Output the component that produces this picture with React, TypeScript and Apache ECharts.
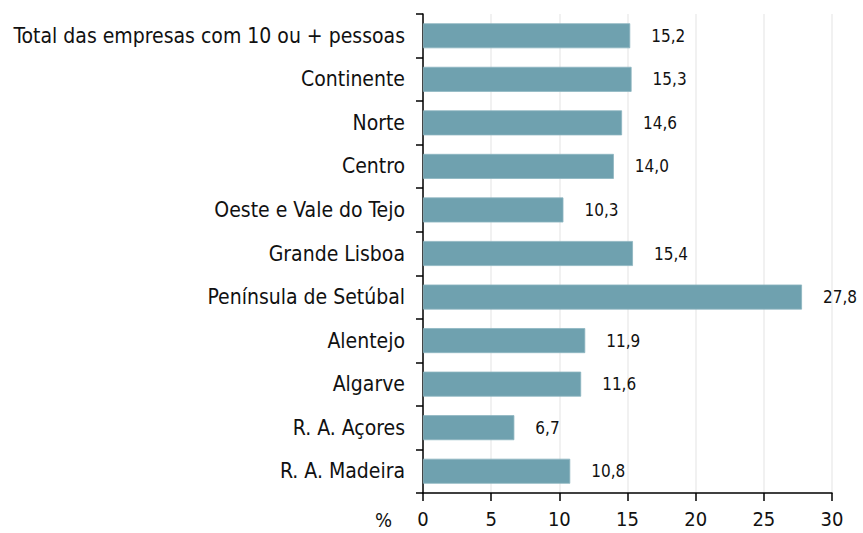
import React, { useEffect, useRef } from "react";
import * as echarts from "echarts";

const categories = [
  "Total das empresas com 10 ou + pessoas",
  "Continente",
  "Norte",
  "Centro",
  "Oeste e Vale do Tejo",
  "Grande Lisboa",
  "Península de Setúbal",
  "Alentejo",
  "Algarve",
  "R. A. Açores",
  "R. A. Madeira",
];
const values = [15.2, 15.3, 14.6, 14.0, 10.3, 15.4, 27.8, 11.9, 11.6, 6.7, 10.8];
const axisUnit = "%";

const FONT = "'DejaVu Sans Condensed', 'DejaVu Sans', sans-serif";

export default function App() {
  const ref = useRef<HTMLDivElement>(null);
  useEffect(() => {
    if (!ref.current) return;
    const chart = echarts.init(ref.current, undefined, { renderer: "svg" });
    chart.setOption({
      animation: false,
      backgroundColor: "#ffffff",
      grid: { left: 423, top: 14, width: 409, height: 479, containLabel: false },
      xAxis: {
        type: "value",
        min: 0,
        max: 30,
        interval: 5,
        axisLine: { show: true, lineStyle: { color: "#000", width: 1.5 } },
        axisTick: { show: true, length: 8, lineStyle: { color: "#000", width: 1.5 } },
        axisLabel: { color: "#111", fontFamily: FONT, fontSize: 20, margin: 16 },
        splitLine: { show: true, lineStyle: { color: "#ececec", width: 1.5 } },
      },
      yAxis: {
        type: "category",
        data: categories,
        inverse: true,
        axisLine: { show: true, lineStyle: { color: "#000", width: 1.5 } },
        axisTick: { show: true, length: 7, lineStyle: { color: "#000", width: 1.5 } },
        axisLabel: { color: "#111", fontFamily: FONT, fontSize: 21, margin: 18 },
        splitLine: { show: false },
      },
      graphic: [
        {
          type: "text",
          x: 375,
          y: 520,
          style: {
            text: axisUnit,
            fontFamily: FONT,
            fontSize: 20,
            fill: "#111",
            verticalAlign: "middle",
          },
        },
      ],
      series: [
        {
          type: "bar",
          data: values,
          barWidth: 25,
          itemStyle: { color: "#6fa1af", borderColor: "#8db5c0", borderWidth: 0.8 },
          label: {
            show: true,
            position: "right",
            distance: 21,
            fontFamily: FONT,
            fontSize: 17,
            color: "#111",
            formatter: (p: any) => p.value.toFixed(1).replace(".", ","),
          },
        },
      ],
    });
    return () => chart.dispose();
  }, []);
  return (
    <div
      ref={ref}
      style={{ position: "fixed", left: 0, top: 0, width: 863, height: 533 }}
    />
  );
}
